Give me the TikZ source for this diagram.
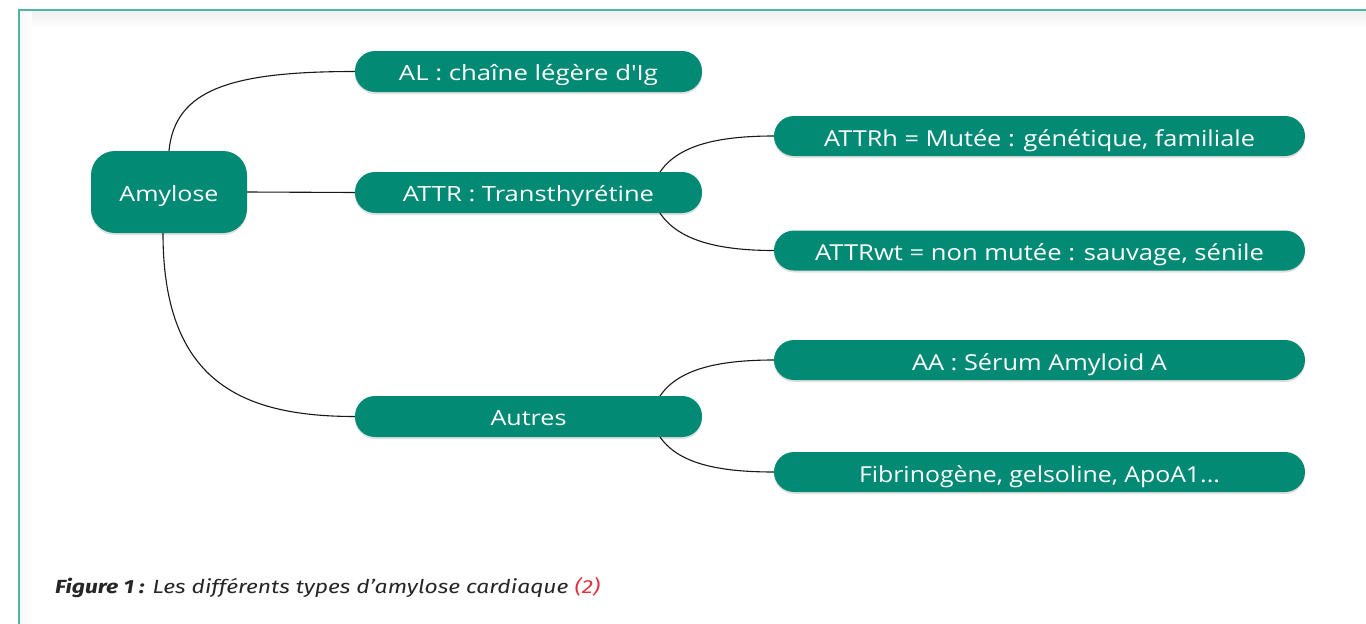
\documentclass[tikz,border=0pt]{standalone}
\usepackage{graphicx}
\usepackage{fontspec}
\setmainfont{Open Sans}[Ligatures=TeXOff]
\newfontfamily\capfont{Fira Sans}
\usetikzlibrary{calc,backgrounds,shadows}

\definecolor{nodeteal}{HTML}{038A75}
\definecolor{frameteal}{HTML}{4FB5A5}
\definecolor{captxt}{HTML}{262626}
\definecolor{refred}{HTML}{E0313F}

% stretch a label horizontally to a given width, keeping its height
\newcommand{\fitw}[2]{\resizebox{#1}{\height}{#2}}

\tikzset{
  box/.style={fill=nodeteal, text=white, inner sep=0pt, align=center,
    text height=22pt, text depth=4pt,
    drop shadow={shadow xshift=0pt, shadow yshift=-2pt, opacity=0.12, fill=black},
    font=\fontsize{21}{25}\selectfont},
  rootbox/.style={box, rounded corners=24pt, minimum width=156pt, minimum height=82pt},
  midbox/.style={box, rounded corners=20pt, minimum width=347pt, minimum height=41pt},
  leafbox/.style={box, rounded corners=20pt, minimum width=531pt, minimum height=40pt,
    font=\fontsize{22}{26}\selectfont, text height=23pt, text depth=3pt},
  link/.style={draw=black!90, line width=1.1pt},
  frame/.style={draw=frameteal, line width=2pt},
}

\begin{document}
\begin{tikzpicture}[x=1pt, y=-1pt]
\useasboundingbox (0,0) rectangle (1366,624);

% nodes
\node[rootbox] (amy) at (169,192) {\fitw{99pt}{Amylose}};
\node[midbox] (al) at (528.5,71.5) {\fitw{259pt}{AL : chaîne légère d'Ig}};
\node[midbox] (attr) at (528.5,192.5) {\fitw{251pt}{ATTR : Transthyrétine}};
\node[midbox] (autres) at (528.5,416.5) {\fitw{76pt}{Autres}};
\node[leafbox] (attrh) at (1039.5,136) {\fitw{431pt}{ATTRh = Mutée : génétique, familiale}};
\node[leafbox] (attrwt) at (1039.5,250.5) {\fitw{449pt}{ATTRwt = non mutée : sauvage, sénile}};
\node[leafbox] (aa) at (1039.5,360) {\fitw{255pt}{AA : Sérum Amyloid A}};
\node[leafbox] (fib) at (1039.5,472) {\fitw{361pt}{Fibrinogène, gelsoline, ApoA1...}};

% caption
\node[anchor=base west, inner sep=0pt, text=captxt,
  font=\capfont\fontsize{19}{22}\selectfont] (cap) at (55,593.5)
  {\fitw{545pt}{\textbf{\textit{Figure 1 :}} \textit{Les différents types d’amylose cardiaque} \textcolor{refred}{\textit{(2)}}}};

\begin{pgfonlayer}{background}
% white page, outer frame with a faint inner shade
\fill[white] (0,0) rectangle (1366,624);
\shade[top color=black!6, bottom color=white] (20,11) rectangle (1366,28);
\shade[left color=black!3, right color=white] (20,11) rectangle (32,624);
\draw[frame] (19,624) -- (19,10) -- (1366,10);

% connectors, behind the boxes
\coordinate (attrout) at ($(attr.east)+(-51,0)$);
\coordinate (autout) at ($(autres.east)+(-51,0)$);
\coordinate (amyup) at (amy.north);
\coordinate (amydown) at ($(amy.south)+(-6,0)$);

\draw[link] (amyup) .. controls ($(amyup)+(6,-61)$) and ($(al.west)+(-125,0)$) .. (al.west);
\draw[link] (amy.east) -- (attr.west);
\draw[link] (amydown) .. controls ($(amydown)+(0,147)$) and ($(autres.west)+(-115,0)$) .. (autres.west);

\draw[link] (attrout) .. controls ($(attrout)+(10,-42)$) and ($(attrh.west)+(-70,0)$) .. (attrh.west);
\draw[link] (attrout) .. controls ($(attrout)+(10,42)$) and ($(attrwt.west)+(-70,0)$) .. (attrwt.west);
\draw[link] (autout) .. controls ($(autout)+(10,-42)$) and ($(aa.west)+(-70,0)$) .. (aa.west);
\draw[link] (autout) .. controls ($(autout)+(10,42)$) and ($(fib.west)+(-70,0)$) .. (fib.west);
\end{pgfonlayer}
\end{tikzpicture}
\end{document}
